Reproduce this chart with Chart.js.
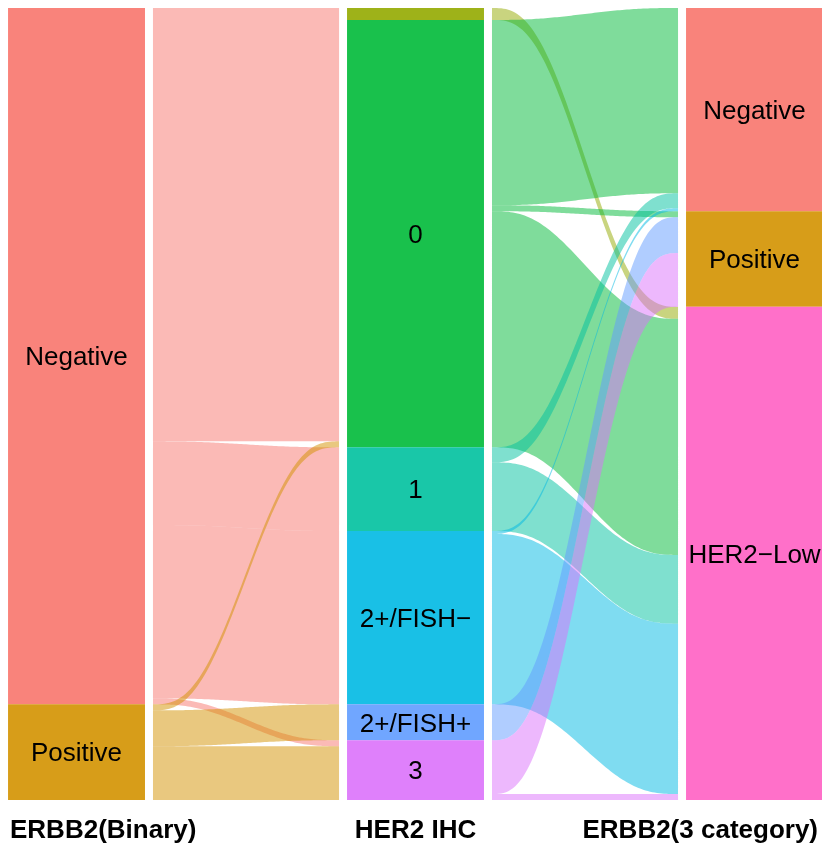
<!DOCTYPE html>
<html>
<head>
<meta charset="utf-8">
<script src="https://cdn.jsdelivr.net/npm/chart.js@4.4.1/dist/chart.umd.min.js"></script>
<style>
  html, body { margin: 0; padding: 0; background: #ffffff; }
  #wrap { width: 822px; height: 848px; position: relative; }
</style>
</head>
<body>
<div id="wrap"><canvas id="alluvial"></canvas></div>
<script>
// Axis titles, left to right
const axisTitles = ['ERBB2(Binary)', 'HER2 IHC', 'ERBB2(3 category)'];

// Strata on each axis, top to bottom
const binaryLevels   = ['Negative', 'Positive'];
const ihcLevels      = ['', '0', '1', '2+/FISH\u2212', '2+/FISH+', '3'];
const categoryLevels = ['Negative', 'Positive', 'HER2\u2212Low'];

// Fill colour of every stratum level
const levelNames  = ['Negative', 'Positive', '', '0', '1', '2+/FISH\u2212', '2+/FISH+', '3', 'HER2\u2212Low'];
const levelColors = ['#F8766D', '#D39200', '#93AA00', '#00BA38', '#00C19F', '#00B9E3', '#619CFF', '#DB72FB', '#FF61C3'];

// Patients moving from ERBB2(Binary) to HER2 IHC
const binaryFrom  = ['Negative', 'Negative', 'Negative', 'Negative', 'Negative', 'Positive', 'Positive', 'Positive'];
const binaryTo    = ['', '0', '1', '2+/FISH\u2212', '3', '0', '2+/FISH+', '3'];
const binaryCount = [4, 141, 28, 58, 2, 2, 12, 18];

// Patients moving from HER2 IHC to ERBB2(3 category)
const ihcFrom  = ['', '0', '0', '0', '1', '1', '2+/FISH\u2212', '2+/FISH\u2212', '2+/FISH+', '3', '3'];
const ihcTo    = ['HER2\u2212Low', 'Negative', 'Positive', 'HER2\u2212Low', 'Negative', 'HER2\u2212Low',
                  'Negative', 'HER2\u2212Low', 'Positive', 'Positive', 'HER2\u2212Low'];
const ihcCount = [4, 62, 2, 79, 5, 23, 1, 57, 12, 18, 2];

// ---- layout constants (axis units) ----
const STRATUM_WIDTH = 0.404;   // bar width
const FLOW_GAP = 0.0236;       // blank margin between a bar and its ribbons
const STRATUM_ALPHA = 0.9;
const FLOW_ALPHA = 0.5;
const CURVE_STEPS = 80;

const axesLevels = [binaryLevels, ihcLevels, categoryLevels];
const links = [
  { from: binaryFrom, to: binaryTo, n: binaryCount },
  { from: ihcFrom, to: ihcTo, n: ihcCount }
];

function colorOf(level) { return levelColors[levelNames.indexOf(level)]; }
function withAlpha(hex, a) {
  const v = parseInt(hex.slice(1), 16);
  return `rgba(${(v >> 16) & 255},${(v >> 8) & 255},${v & 255},${a})`;
}
function sumBy(levels, names, counts) {
  return levels.map(l => names.reduce((s, nm, i) => s + (nm === l ? counts[i] : 0), 0));
}

// stratum sizes and their cumulative starts from the top
const strataSize = [
  sumBy(binaryLevels, binaryFrom, binaryCount),
  sumBy(ihcLevels, binaryTo, binaryCount),
  sumBy(categoryLevels, ihcTo, ihcCount)
];
const strataStart = strataSize.map(arr => { let c = 0; return arr.map(v => { const s = c; c += v; return s; }); });
const total = binaryCount.reduce((a, b) => a + b, 0);

// position of every ribbon end inside its stratum
function layoutLink(k) {
  const L = links[k], left = axesLevels[k], right = axesLevels[k + 1];
  const idx = L.n.map((_, i) => i);
  const leftOff = strataStart[k].slice(), rightOff = strataStart[k + 1].slice();
  const out = idx.map(i => ({ i }));
  idx.slice().sort((a, b) => left.indexOf(L.from[a]) - left.indexOf(L.from[b]) ||
                             right.indexOf(L.to[a]) - right.indexOf(L.to[b]))
    .forEach(i => { const s = left.indexOf(L.from[i]); out[i].y0 = leftOff[s]; leftOff[s] += L.n[i]; });
  idx.slice().sort((a, b) => right.indexOf(L.to[a]) - right.indexOf(L.to[b]) ||
                             left.indexOf(L.from[a]) - left.indexOf(L.from[b]))
    .forEach(i => { const s = right.indexOf(L.to[i]); out[i].y1 = rightOff[s]; rightOff[s] += L.n[i]; });
  return out;
}

function ease(u) { return u * u * u * (u * (u * 6 - 15) + 10); }

// ribbons between neighbouring axes
const flowPlugin = {
  id: 'flows',
  beforeDatasetsDraw(chart) {
    const { ctx, chartArea, scales: { x, y } } = chart;
    ctx.save();
    ctx.beginPath();
    ctx.rect(chartArea.left, chartArea.top, chartArea.width, chartArea.height);
    ctx.clip();
    links.forEach((L, k) => {
      const xa = x.getPixelForValue(k + STRATUM_WIDTH / 2 + FLOW_GAP);
      const xb = x.getPixelForValue(k + 1 - STRATUM_WIDTH / 2 - FLOW_GAP);
      layoutLink(k).forEach(({ i, y0, y1 }) => {
        const n = L.n[i];
        const t0 = y.getPixelForValue(y0), b0 = y.getPixelForValue(y0 + n);
        const t1 = y.getPixelForValue(y1), b1 = y.getPixelForValue(y1 + n);
        ctx.beginPath();
        for (let s = 0; s <= CURVE_STEPS; s++) {
          const u = s / CURVE_STEPS, e = ease(u);
          const px = xa + (xb - xa) * u, py = t0 + (t1 - t0) * e;
          if (s === 0) ctx.moveTo(px, py); else ctx.lineTo(px, py);
        }
        for (let s = CURVE_STEPS; s >= 0; s--) {
          const u = s / CURVE_STEPS, e = ease(u);
          ctx.lineTo(xa + (xb - xa) * u, b0 + (b1 - b0) * e);
        }
        ctx.closePath();
        ctx.fillStyle = withAlpha(colorOf(L.from[i]), FLOW_ALPHA);
        ctx.fill();
      });
    });
    ctx.restore();
  }
};

// stratum names and axis titles
const textPlugin = {
  id: 'texts',
  afterDatasetsDraw(chart) {
    const { ctx, chartArea, scales: { x, y } } = chart;
    ctx.save();
    ctx.fillStyle = '#000000';
    ctx.textBaseline = 'alphabetic';
    const size = 26;
    ctx.font = `${size}px "Liberation Sans", Arial, sans-serif`;
    ctx.textAlign = 'center';
    axesLevels.forEach((levels, a) => {
      const cx = x.getPixelForValue(a);
      levels.forEach((l, j) => {
        if (!l) return;
        const mid = y.getPixelForValue(strataStart[a][j] + strataSize[a][j] / 2);
        ctx.fillText(l, cx, mid + size * 0.358);
      });
    });
    ctx.font = `bold ${size}px "Liberation Sans", Arial, sans-serif`;
    const base = chartArea.bottom + 38;
    ctx.textAlign = 'left';
    ctx.fillText(axisTitles[0], chartArea.left + 2, base);
    ctx.textAlign = 'center';
    ctx.fillText(axisTitles[1], x.getPixelForValue(1), base);
    ctx.textAlign = 'right';
    ctx.fillText(axisTitles[2], chartArea.right - 4, base);
    ctx.restore();
  }
};

const datasets = axesLevels.map((levels, a) => ({
  data: levels.map((l, j) => ({ x: a, y: [strataStart[a][j], strataStart[a][j] + strataSize[a][j]] })),
  backgroundColor: levels.map(l => withAlpha(colorOf(l), STRATUM_ALPHA)),
  borderWidth: 0,
  borderSkipped: false,
  grouped: false,
  barPercentage: STRATUM_WIDTH,
  categoryPercentage: 1
}));

new Chart(document.getElementById('alluvial'), {
  type: 'bar',
  data: { datasets },
  options: {
    responsive: true,
    maintainAspectRatio: false,
    animation: false,
    devicePixelRatio: 1,
    layout: { padding: { left: 8, right: 0, top: 8, bottom: 48 } },
    plugins: { legend: { display: false }, tooltip: { enabled: false } },
    scales: {
      x: {
        type: 'linear',
        display: false,
        offset: false,
        min: -0.2021,
        max: 2.1991,
        afterBuildTicks: axis => { axis.ticks = axisTitles.map((_, i) => ({ value: i })); }
      },
      y: {
        type: 'linear',
        display: false,
        reverse: true,
        min: 0,
        max: total
      }
    }
  },
  plugins: [flowPlugin, textPlugin]
});
</script>
</body>
</html>
